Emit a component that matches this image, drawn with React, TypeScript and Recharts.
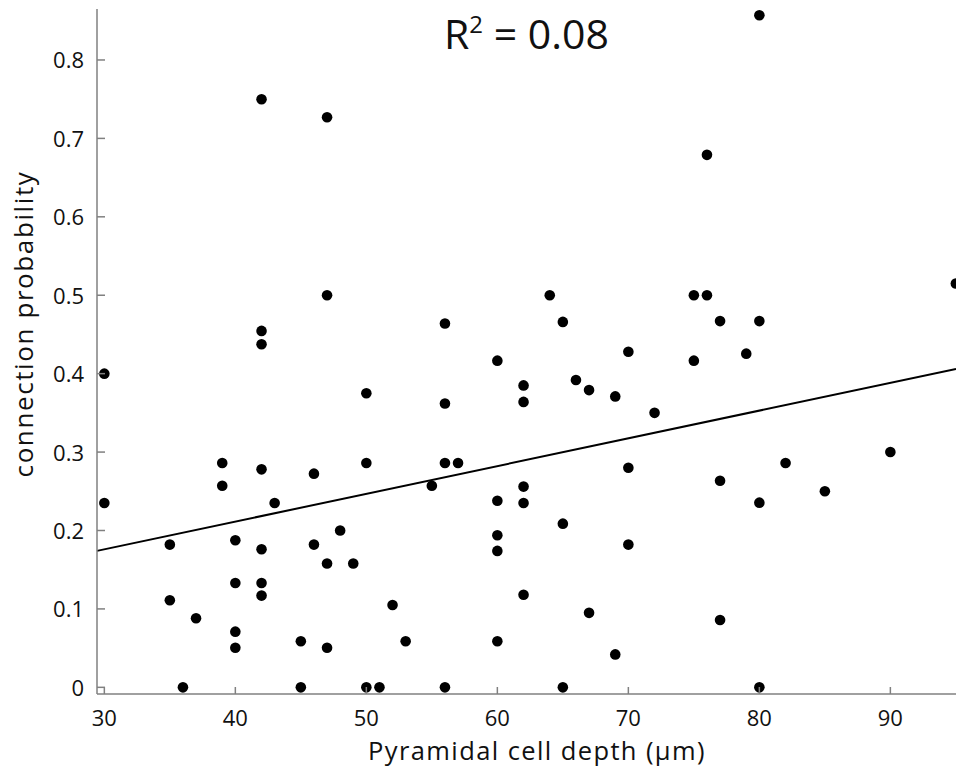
import React from "react";
import { ScatterChart, Scatter, XAxis, YAxis, ReferenceLine, Customized } from "recharts";

const depthX = [
  80, 42, 47, 76,
  47, 64, 75, 76, 95, 42, 42, 56, 65, 77, 80, 79, 30, 60, 75, 70, 66, 67, 62, 62, 50, 56, 69, 72,
  90, 82, 85, 80, 77, 70, 39, 39, 42, 46, 43, 30, 50, 56, 57, 55, 60, 62, 62, 48, 40, 35, 42, 46, 47, 49, 60, 60, 65, 70,
  35, 37, 40, 42, 42, 40, 40, 45, 47, 52, 53, 60, 62, 67, 77, 69,
  36, 45, 50, 51, 56, 65, 80,
];
const probY = [
  0.857, 0.75, 0.727, 0.679,
  0.5, 0.5, 0.5, 0.5, 0.515, 0.4545, 0.4375, 0.464, 0.466, 0.467, 0.467, 0.4255, 0.4, 0.4166, 0.4166, 0.428, 0.392, 0.379, 0.385, 0.364, 0.375, 0.362, 0.371, 0.35,
  0.3, 0.286, 0.25, 0.2355, 0.2635, 0.28, 0.286, 0.257, 0.278, 0.2725, 0.235, 0.235, 0.286, 0.286, 0.286, 0.257, 0.238, 0.256, 0.235, 0.2, 0.1875, 0.182, 0.176, 0.182, 0.158, 0.158, 0.194, 0.174, 0.2087, 0.182,
  0.111, 0.088, 0.133, 0.133, 0.117, 0.071, 0.0505, 0.0587, 0.0505, 0.105, 0.0587, 0.0587, 0.118, 0.095, 0.0858, 0.042,
  0, 0, 0, 0, 0, 0, 0,
];
const fitX = [29.44, 95.01];
const fitY = [0.174, 0.406];
const xTicks = [30, 40, 50, 60, 70, 80, 90];
const yTicks = [0, 0.1, 0.2, 0.3, 0.4, 0.5, 0.6, 0.7, 0.8];
const xTitle = "Pyramidal cell depth (μm)";
const yTitle = "connection probability";
const r2Value = "0.08";

const data = depthX.map((x, i) => ({ x, y: probY[i] }));

const FONT = "'Open Sans', 'Noto Sans', sans-serif";
const AXIS = "#808080";

const XTick = (props: any) => {
  const { x, y, payload } = props;
  return (
    <g>
      <line x1={x} y1={y} x2={x} y2={y - 7} stroke={AXIS} strokeWidth={1.5} />
      <text x={x} y={y + 31.5} textAnchor="middle" fontFamily={FONT} fontSize={22} fill="#111">
        {payload.value}
      </text>
    </g>
  );
};

const YTick = (props: any) => {
  const { x, y, payload } = props;
  return (
    <g>
      <line x1={x} y1={y} x2={x + 8} y2={y} stroke={AXIS} strokeWidth={1.5} />
      <text x={x - 13} y={y + 8.5} textAnchor="end" fontFamily={FONT} fontSize={22} fill="#111">
        {payload.value}
      </text>
    </g>
  );
};

const Dot = (props: any) => {
  const { cx, cy } = props;
  if (cx == null || cy == null) return null;
  return <circle cx={cx} cy={cy} r={5.3} fill="#000" />;
};

const Titles = () => (
  <g>
    <text x={444} y={48.5} fontFamily={FONT} fontSize={41} fill="#111">
      R
      <tspan dy={-15.5} fontSize={24}>2</tspan>
      <tspan dy={15.5} fontSize={41}>{" = " + r2Value}</tspan>
    </text>
    <text x={537} y={760} textAnchor="middle" fontFamily={FONT} fontSize={25.5} letterSpacing={1.4} fill="#111">
      {xTitle}
    </text>
    <text
      x={33}
      y={324}
      textAnchor="middle"
      fontFamily={FONT}
      fontSize={26}
      letterSpacing={1.6}
      fill="#111"
      transform="rotate(-90 33 324)"
    >
      {yTitle}
    </text>
  </g>
);

export default function App() {
  return (
    <div style={{ position: "absolute", left: 0, top: 0, width: 956, height: 772, background: "#fff" }}>
      <ScatterChart width={956} height={772} margin={{ top: 9, right: 0, bottom: 0, left: 0 }}>
        <XAxis
          type="number"
          dataKey="x"
          domain={[29.44, 95.01]}
          ticks={xTicks}
          allowDataOverflow
          height={78}
          tickSize={0}
          tickMargin={0}
          tickLine={false}
          axisLine={{ stroke: AXIS, strokeWidth: 1.5 }}
          tick={<XTick />}
        />
        <YAxis
          type="number"
          dataKey="y"
          domain={[-0.0085, 0.865]}
          ticks={yTicks}
          allowDataOverflow
          width={97}
          tickSize={0}
          tickMargin={0}
          tickLine={false}
          axisLine={{ stroke: AXIS, strokeWidth: 1.5 }}
          tick={<YTick />}
        />
        <ReferenceLine
          segment={[
            { x: fitX[0], y: fitY[0] },
            { x: fitX[1], y: fitY[1] },
          ]}
          stroke="#000"
          strokeWidth={2}
          ifOverflow="visible"
        />
        <Scatter data={data} shape={<Dot />} isAnimationActive={false} />
        <Customized component={Titles} />
      </ScatterChart>
    </div>
  );
}
